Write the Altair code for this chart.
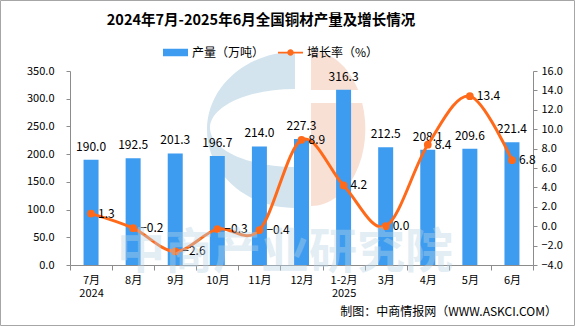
import altair as alt
import pandas as pd

months = ["7月\n2024", "8月", "9月", "10月", "11月", "12月", "1-2月\n2025", "3月", "4月", "5月", "6月"]
production = [190.0, 192.5, 201.3, 196.7, 214.0, 227.3, 316.3, 212.5, 208.1, 209.6, 221.4]
growth = [1.3, -0.2, -2.6, -0.3, -0.4, 8.9, 4.2, 0.0, 8.4, 13.4, 6.8]
left_ticks = [0, 50, 100, 150, 200, 250, 300, 350]
right_ticks = [-4, -2, 0, 2, 4, 6, 8, 10, 12, 14, 16]
bar_name = "产量（万吨）"
line_name = "增长率（%）"
title_text = "2024年7月-2025年6月全国铜材产量及增长情况"
footer_text = "制图：中商情报网（WWW.ASKCI.COM）"
watermark_text = "中商产业研究院"

FONT = "Noto Sans CJK SC"
BLUE = "#3d9cf0"
ORANGE = "#ff6a1a"
AXIS = "#8c8c8c"

df = pd.DataFrame({
    "month": months,
    "prod": production,
    "growth": growth,
    "s1": [bar_name] * len(months),
    "s2": [line_name] * len(months),
})

X = alt.X("month:N", sort=months,
          scale=alt.Scale(paddingInner=0, paddingOuter=0),
          axis=alt.Axis(title=None, labelAngle=0, tickBand="extent",
                        labelExpr="split(datum.label, '\\n')",
                        labelFont=FONT, labelFontSize=11, labelColor="#000",
                        domainColor=AXIS, tickColor=AXIS, tickSize=5,
                        labelPadding=4, labelLineHeight=13))

YL = alt.Y("prod:Q", scale=alt.Scale(domain=[0, 350], nice=False),
           axis=alt.Axis(title=None, values=left_ticks,
                         format=".1f", grid=False, labelFont=FONT, labelFontSize=11,
                         labelColor="#000", domainColor=AXIS, tickColor=AXIS,
                         tickSize=4, labelPadding=12, labelOverlap=False))

YR = alt.Y("growth:Q", scale=alt.Scale(domain=[-4, 16], nice=False),
           axis=alt.Axis(title=None, orient="right", values=right_ticks,
                         format=".1f", grid=False, labelFont=FONT, labelFontSize=11,
                         labelColor="#000", domainColor=AXIS, tickColor=AXIS,
                         tickSize=4, labelPadding=4, labelOverlap=False))

base = alt.Chart(df)

# ---- background logo (decoration), shape paths relative to its centre ----
LC = (300.0, 130.0)  # logo centre in page pixels
S = 100.0            # px per path unit (size = (2*S)^2)


def p(xv, yv):
    return f"{(xv - LC[0]) / S:.4f},{(yv - LC[1]) / S:.4f}"


def arc(rx, ry, large, sweep, xv, yv):
    return f"A{rx / S:.4f},{ry / S:.4f} 0 {large},{sweep} {p(xv, yv)}"


blue_logo = (f"M{p(295, 52)}" + arc(88, 78, 0, 0, 295, 208) + f"L{p(295, 167)}"
             + arc(85, 39, 0, 1, 295, 89) + "Z")
pink_logo = (f"M{p(311, 51)}" + arc(54, 77, 0, 1, 358.2, 90) + f"L{p(311, 90)}Z"
             + f"M{p(311, 103)}L{p(362.2, 103)}" + arc(54, 77, 0, 1, 311, 206) + "Z")

one = pd.DataFrame({"k": [0]})
logo_b = alt.Chart(one).mark_point(shape=blue_logo, size=(2 * S) ** 2, filled=True,
                                   color="#d3e4ee", opacity=1, strokeWidth=0).encode(
    x=alt.value(LC[0] - 70), y=alt.value(LC[1] - 71))
logo_p = alt.Chart(one).mark_point(shape=pink_logo, size=(2 * S) ** 2, filled=True,
                                   color="#f9e0d5", opacity=1, strokeWidth=0).encode(
    x=alt.value(LC[0] - 70), y=alt.value(LC[1] - 71))

# frame around the whole picture
frame = alt.Chart(one).mark_rect(fillOpacity=0, stroke="#a6a6a6", strokeWidth=1).encode(
    x=alt.value(-69.5), x2=alt.value(504.5), y=alt.value(-70.5), y2=alt.value(254.5))

bar_path = "M-1,-0.3L1,-0.3L1,0.3L-1,0.3Z"
line_path = ("M-1,-0.07L1,-0.07L1,0.07L-1,0.07Z"
             "M0.26,0A0.26,0.26 0 1,1 -0.26,0A0.26,0.26 0 1,1 0.26,0Z")

bars = base.mark_bar(size=15).encode(
    x=X, y=YL,
    fill=alt.Fill("s1:N", scale=alt.Scale(range=[BLUE]),
                  legend=alt.Legend(title=None, orient="none", legendX=93, legendY=-31,
                                    padding=0, symbolType=bar_path, symbolSize=625,
                                    labelFont=FONT, labelFontSize=12, labelColor="#000",
                                    symbolStrokeWidth=0)),
)

bar_text = base.mark_text(dy=-6, baseline="bottom", font=FONT, fontSize=12, color="#000").encode(
    x=X, y=YL, text=alt.Text("prod:Q", format=".1f"))

left = alt.layer(bars, bar_text)

line = base.mark_line(interpolate="cardinal", strokeWidth=3).encode(
    x=X, y=YR,
    stroke=alt.Stroke("s2:N", scale=alt.Scale(range=[ORANGE]),
                      legend=alt.Legend(title=None, orient="none", legendX=208, legendY=-31,
                                        padding=0, symbolType=line_path, symbolSize=625,
                                        symbolFillColor=ORANGE, symbolStrokeWidth=0,
                                        labelFont=FONT, labelFontSize=12, labelColor="#000")),
)
pts = base.mark_circle(size=60, color=ORANGE, opacity=1).encode(x=X, y=YR)
line_text = base.mark_text(align="left", dx=7, baseline="middle", font=FONT, fontSize=12,
                           color="#000").encode(
    x=X, y=YR, text=alt.Text("growth:Q", format=".1f"))

right = alt.layer(line, pts, line_text)

wm = alt.Chart(pd.DataFrame({"t": [watermark_text]})).mark_text(
    font=FONT, fontSize=48, fontWeight="bold", color="#b9d3e6", opacity=0.4,
    align="center", baseline="middle").encode(
    text="t:N", x=alt.value(215), y=alt.value(183))

foot = alt.Chart(pd.DataFrame({"t": [footer_text]})).mark_text(
    font=FONT, fontSize=12, color="#000", align="right", baseline="middle").encode(
    text="t:N", x=alt.value(487), y=alt.value(241))

title = alt.Chart(pd.DataFrame({"t": [title_text]})).mark_text(
    font=FONT, fontSize=14.5, fontWeight="bold", color="#000", align="center",
    baseline="middle").encode(
    text="t:N", x=alt.value(191), y=alt.value(-50))

chart = alt.layer(logo_b, logo_p, left, right, wm, foot, title, frame).resolve_scale(
    y="independent", fill="independent", stroke="independent"
).properties(
    width=463, height=194,
    autosize=alt.AutoSizeParams(type="none"),
    padding={"left": 70, "top": 71, "right": 42, "bottom": 61},
    background="white",
).configure_view(stroke=None).configure_axis(labelOverlap=False)

chart.save("out.html", embed_options={"renderer": "svg", "actions": False})
